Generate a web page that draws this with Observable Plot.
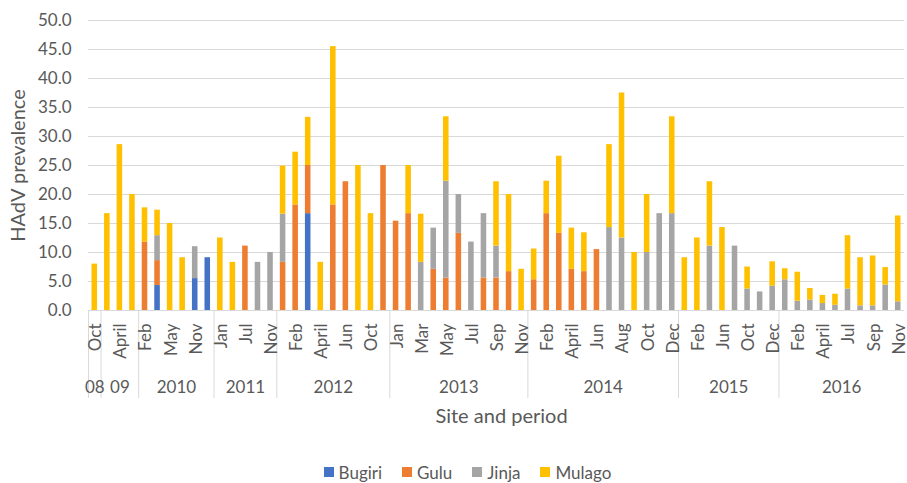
<!DOCTYPE html>
<html><head><meta charset="utf-8">
<script src="https://cdn.jsdelivr.net/npm/d3@7"></script>
<script src="https://cdn.jsdelivr.net/npm/@observablehq/plot@0.6"></script>
<style>
body{margin:0;background:#fff;font-family:Lato,"Liberation Sans",sans-serif;}
#legend{display:flex;justify-content:center;padding-left:28px;padding-top:6px;height:22px;align-items:center;font-size:17px;color:#595959;}
.item{display:flex;align-items:center;margin:0 10px;}
.sw{width:10px;height:10px;margin-right:5px;}
</style></head><body><div id="chart"></div><div id="legend"></div>
<script>
const sites = ["Bugiri", "Gulu", "Jinja", "Mulago"];
const colors = ["#4472C4", "#ED7D31", "#A5A5A5", "#FFC000"];

const periodYear = [
  "08",
  "09","09","09",
  "2010","2010","2010","2010","2010","2010",
  "2011","2011","2011","2011","2011",
  "2012","2012","2012","2012","2012","2012","2012","2012","2012",
  "2013","2013","2013","2013","2013","2013","2013","2013","2013","2013","2013",
  "2014","2014","2014","2014","2014","2014","2014","2014","2014","2014","2014","2014",
  "2015","2015","2015","2015","2015","2015","2015","2015",
  "2016","2016","2016","2016","2016","2016","2016","2016","2016","2016"
];
const periodMonth = [
  "Oct",
  "Feb","April","Jun",
  "Feb","Mar","May","Aug","Nov","Dec",
  "Jan","Apr","Jul","Sep","Nov",
  "Jan","Feb","Mar","April","May","Jun","Aug","Oct","Dec",
  "Jan","Feb","Mar","Apr","May","Jun","Jul","Aug","Sep","Oct","Nov",
  "Jan","Feb","Mar","April","May","Jun","Jul","Aug","Sep","Oct","Nov","Dec",
  "Jan","Feb","Apr","Jun","Aug","Oct","Nov","Dec",
  "Jan","Feb","Mar","April","Jun","Jul","Aug","Sep","Oct","Nov"
];

const bugiri = [
  0, 0,0,0, 0,4.3,0,0,5.5,9.1, 0,0,0,0,0,
  0,0,16.7,0,0,0,0,0,0,
  0,0,0,0,0,0,0,0,0,0,0,
  0,0,0,0,0,0,0,0,0,0,0,0,
  0,0,0,0,0,0,0,0,
  0,0,0,0,0,0,0,0,0,0
];
const gulu = [
  0, 0,0,0, 11.8,4.3,0,0,0,0, 0,0,11.1,0,0,
  8.3,18.2,8.3,0,18.2,22.2,0,0,25.0,
  15.4,16.7,0,7.1,5.6,13.3,0,5.6,5.6,6.7,0,
  5.3,16.7,13.3,7.1,6.7,10.5,0,0,0,0,0,0,
  0,0,0,0,0,0,0,0,
  0,0,0,0,0,0,0,0,0,0
];
const jinja = [
  0, 0,0,0, 0,4.3,0,0,5.5,0, 0,0,0,8.3,10.0,
  8.3,0,0,0,0,0,0,0,0,
  0,0,8.3,7.1,16.7,6.7,11.8,11.1,5.5,0,0,
  0,0,0,0,0,0,14.3,12.5,0,10.0,16.7,16.7,
  0,0,11.1,0,11.1,3.7,3.2,4.2,
  5.3,1.6,1.8,1.2,0.9,3.7,0.8,0.8,4.4,1.5
];
const mulago = [
  8.0, 16.7,28.6,20.0, 5.9,4.4,15.0,9.1,0,0, 12.5,8.3,0,0,0,
  8.3,9.1,8.3,8.3,27.3,0,25.0,16.7,0,
  0,8.3,8.3,0,11.1,0,0,0,11.1,13.3,7.1,
  5.3,5.6,13.3,7.1,6.7,0,14.3,25.0,10.0,10.0,0,16.7,
  9.1,12.5,11.1,14.3,0,3.8,0,4.2,
  1.9,5.0,2.0,1.4,1.9,9.2,8.3,8.6,3.0,14.8
];
const yTicks = [0, 5, 10, 15, 20, 25, 30, 35, 40, 45, 50];
const yTitle = "HAdV prevalence";
const xTitle = "Site and period";

const series = {Bugiri: bugiri, Gulu: gulu, Jinja: jinja, Mulago: mulago};
const rows = [];
periodMonth.forEach((m, i) => sites.forEach(s => {
  const v = series[s][i];
  if (v > 0) rows.push({i, site: s, value: v});
}));
const groups = [];
periodYear.forEach((y, i) => {
  const g = groups[groups.length - 1];
  if (!g || g.year !== y) groups.push({year: y, start: i, end: i + 1});
  else g.end = i + 1;
});
const monthTicks = periodMonth.map((m, i) => ({i, label: m})).filter(d => d.i % 2 === 0);

const txt = {fill: "#595959", fontFamily: "Lato", lineAnchor: "middle"};
const plot = Plot.plot({
  width: 907, height: 455,
  marginLeft: 88, marginRight: 3, marginTop: 20, marginBottom: 145,
  style: {fontFamily: "Lato", fontSize: "17px", color: "#595959", background: "#fff", overflow: "visible"},
  x: {domain: [0, periodMonth.length], axis: null},
  y: {domain: [0, 50], axis: null},
  color: {domain: sites, range: colors},
  marks: [
    Plot.ruleY(yTicks, {stroke: "#d9d9d9", strokeWidth: 1.2}),
    Plot.axisY(yTicks, {tickSize: 0, tickPadding: 17, tickFormat: d3.format(".1f"), fontSize: 17, fill: "#595959", label: null}),
    Plot.rectY(rows, Plot.stackY({x: "i", x1: "i", x2: d => d.i + 1, y: "value", fill: "site", order: sites, insetLeft: 3.5, insetRight: 3.5})),
    Plot.axisX(groups.map(g => g.start), {tickSize: 88, stroke: "#d9d9d9", tickFormat: () => "", label: null}),
    Plot.text(monthTicks, {x: d => d.i + 0.5, frameAnchor: "bottom", dy: 13, dx: 1, rotate: -90, textAnchor: "end", text: "label", fontSize: 17, ...txt}),
    Plot.text(groups, {x: d => (d.start + d.end) / 2, frameAnchor: "bottom", dy: 77, text: "year", textAnchor: "middle", fontSize: 17, ...txt}),
    Plot.text([xTitle], {text: d => d, frameAnchor: "bottom", dy: 106, dx: 5, textAnchor: "middle", fontSize: 20, ...txt}),
    Plot.text([yTitle], {text: d => d, frameAnchor: "left", dx: -70, rotate: -90, textAnchor: "middle", fontSize: 20, ...txt})
  ]
});
document.getElementById("chart").appendChild(plot);

const legend = document.getElementById("legend");
sites.forEach((s, k) => {
  const item = document.createElement("div");
  item.className = "item";
  const sw = document.createElement("div");
  sw.className = "sw";
  sw.style.background = colors[k];
  const label = document.createElement("span");
  label.textContent = s;
  item.appendChild(sw);
  item.appendChild(label);
  legend.appendChild(item);
});
</script>
</body></html>
